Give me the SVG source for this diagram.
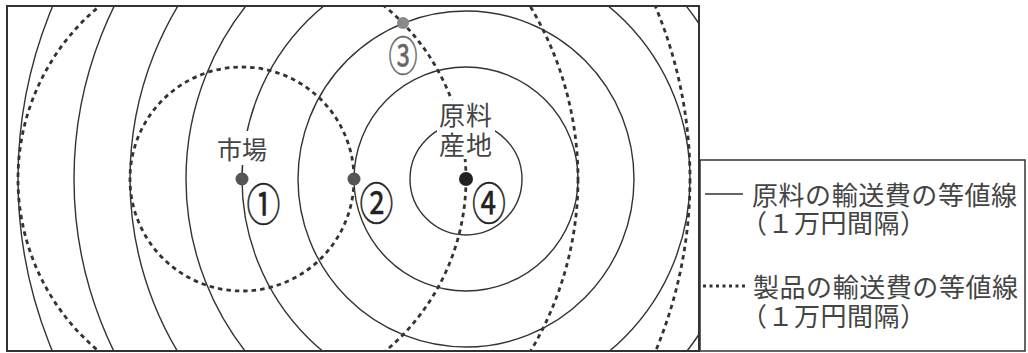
<svg xmlns="http://www.w3.org/2000/svg" width="1028" height="353" viewBox="0 0 1028 353">
<style>
.solid{fill:none;stroke:#333;stroke-width:1.4}
.dash{fill:none;stroke:#333;stroke-width:2.8;stroke-dasharray:4.5 4}
.lbl{font-family:"Noto Sans CJK JP","Noto Sans CJK SC",sans-serif;fill:#444}
.num{font-family:"Noto Sans CJK JP","Noto Sans CJK SC",sans-serif;fill:#222;stroke:#222;stroke-width:0.5;text-anchor:middle}
.mask{fill:#fff;stroke:none}
</style>
<defs>
<clipPath id="map"><rect x="7" y="6" width="692" height="345"/></clipPath>
</defs>
<rect x="0" y="0" width="1028" height="353" fill="#fff"/>
<g id="connectors" clip-path="url(#map)">
<g id="raw-isolines">
<circle class="solid" cx="466" cy="179" r="56"/>
<circle class="solid" cx="466" cy="179" r="112"/>
<circle class="solid" cx="466" cy="179" r="168"/>
<circle class="solid" cx="466" cy="179" r="224"/>
<circle class="solid" cx="466" cy="179" r="280"/>
<circle class="solid" cx="466" cy="179" r="336"/>
<circle class="solid" cx="466" cy="179" r="392"/>
<circle class="solid" cx="466" cy="179" r="448"/>
</g>
<g id="product-isolines">
<circle class="dash" cx="242" cy="179" r="112"/>
<circle class="dash" cx="242" cy="179" r="224"/>
<circle class="dash" cx="242" cy="179" r="336"/>
<circle class="dash" cx="242" cy="179" r="448"/>
</g>
</g>
<rect id="map-frame" x="7" y="6" width="692" height="345" fill="none" stroke="#333" stroke-width="2"/>
<g id="market">
<rect class="mask" x="214" y="131" width="57" height="34"/>
<text class="lbl" x="217" y="159" font-size="25" textLength="50">市場</text>
<circle cx="242" cy="179" r="6.5" fill="#555"/>
</g>
<g id="raw-site">
<rect class="mask" x="437" y="100" width="58" height="59"/>
<text class="lbl" font-size="26"><tspan x="439" y="124.5" textLength="53">原料</tspan><tspan x="439" y="155" textLength="53">産地</tspan></text>
<circle cx="466" cy="179" r="7" fill="#222"/>
</g>
<g id="point2">
<circle cx="354" cy="179" r="6.5" fill="#555"/>
</g>
<g id="point3">
<circle cx="403" cy="23" r="6" fill="#888"/>
</g>
<g id="label1"><text class="num" font-size="44" transform="translate(263.5,203) scale(0.77,1)" y="18">①</text></g>
<g id="label2"><text class="num" font-size="44" transform="translate(376.5,202) scale(0.77,1)" y="18">②</text></g>
<g id="label3"><text class="num" font-size="41" transform="translate(403,54) scale(0.71,1)" y="17" style="fill:#666;stroke:#666">③</text></g>
<g id="label4"><text class="num" font-size="44" transform="translate(489,202) scale(0.77,1)" y="18">④</text></g>
<g id="legend">
<rect x="700" y="160" width="325" height="191" fill="none" stroke="#333" stroke-width="1.5"/>
<line x1="705" y1="194" x2="743" y2="194" stroke="#333" stroke-width="1.5"/>
<text class="lbl" font-size="26"><tspan x="752" y="204.5" textLength="265">原料の輸送費の等値線</tspan><tspan x="741" y="232.5" textLength="185">（１万円間隔）</tspan></text>
<line x1="703" y1="286" x2="745" y2="286" stroke="#333" stroke-width="3" stroke-dasharray="3 3.5"/>
<text class="lbl" font-size="26"><tspan x="753" y="296.5" textLength="265">製品の輸送費の等値線</tspan><tspan x="741" y="325.5" textLength="185">（１万円間隔）</tspan></text>
</g>
</svg>
